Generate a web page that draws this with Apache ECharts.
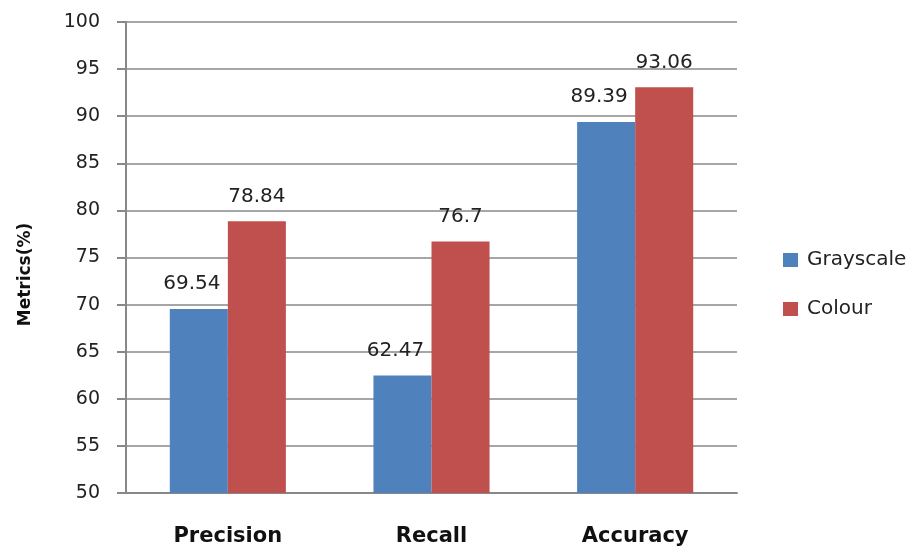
<!DOCTYPE html>
<html>
<head>
<meta charset="utf-8">
<script src="https://cdn.jsdelivr.net/npm/echarts@6/dist/echarts.min.js"></script>
<style>
  html, body { margin: 0; padding: 0; background: #fff; }
  #chart { width: 907px; height: 547px; }
</style>
</head>
<body>
<div id="chart"></div>
<script>
const categories = ['Precision', 'Recall', 'Accuracy'];
const grayscale = [69.54, 62.47, 89.39];
const colour = [78.84, 76.7, 93.06];
const yTicks = { min: 50, max: 100, interval: 5 };

const myChart = echarts.init(document.getElementById('chart'));

const labelStyle = {
  show: true,
  position: 'top',
  distance: 15,
  fontFamily: 'DejaVu Sans',
  fontSize: 20,
  color: '#222'
};

const option = {
  animation: false,
  grid: { left: 126, right: 170, top: 22, bottom: 54 },
  legend: {
    orient: 'vertical',
    left: 778,
    top: 245,
    itemWidth: 15,
    itemHeight: 14,
    itemGap: 29,
    icon: 'rect',
    textStyle: { fontFamily: 'DejaVu Sans', fontSize: 20, lineHeight: 20, color: '#222', padding: [0, 0, 0, 4] },
    data: ['Grayscale', 'Colour']
  },
  xAxis: {
    type: 'category',
    data: categories,
    axisLine: { lineStyle: { color: '#888', width: 2 } },
    axisTick: { show: false },
    axisLabel: {
      margin: 33,
      fontFamily: 'DejaVu Sans',
      fontWeight: 'bold',
      fontSize: 21,
      color: '#111'
    }
  },
  yAxis: {
    type: 'value',
    min: yTicks.min,
    max: yTicks.max,
    interval: yTicks.interval,
    name: 'Metrics(%)',
    nameLocation: 'middle',
    nameGap: 92,
    nameTextStyle: {
      fontFamily: 'DejaVu Sans',
      fontWeight: 'bold',
      fontSize: 17,
      color: '#111',
      padding: [0, 34, 0, 0]
    },
    axisLine: { show: true, lineStyle: { color: '#888', width: 2 } },
    axisTick: { show: true, length: 9, inside: false, lineStyle: { color: '#888', width: 2 } },
    axisLabel: {
      margin: 26,
      fontFamily: 'DejaVu Sans',
      fontSize: 19,
      color: '#222'
    },
    splitLine: { lineStyle: { color: '#888', width: 1.5 } }
  },
  series: [
    {
      name: 'Grayscale',
      type: 'bar',
      data: grayscale,
      barGap: '0%',
      barCategoryGap: '43%',
      itemStyle: { color: '#4F81BD' },
      label: Object.assign({}, labelStyle, { offset: [-7, 0] })
    },
    {
      name: 'Colour',
      type: 'bar',
      data: colour,
      itemStyle: { color: '#C0504D' },
      label: labelStyle
    }
  ]
};

myChart.setOption(option);
</script>
</body>
</html>
